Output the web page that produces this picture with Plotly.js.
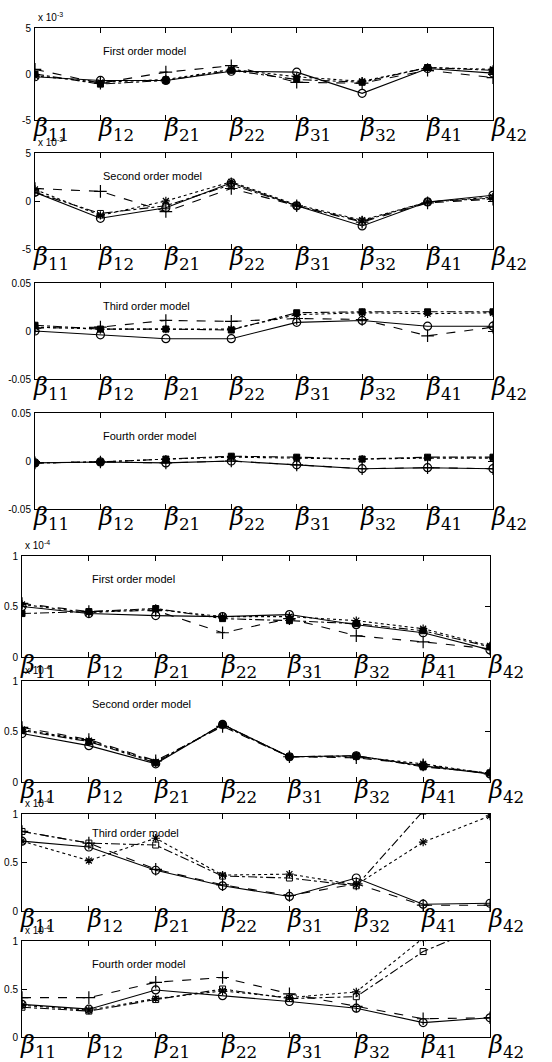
<!DOCTYPE html>
<html><head><meta charset="utf-8">
<script src="https://cdn.plot.ly/plotly-3.0.1.min.js"></script>
<style>html,body{margin:0;padding:0;background:#fff;}#chart{width:552px;height:1062px;}</style>
</head><body><div id="chart"></div>
<script>
// Categories and tick labels
const categories = ["b11","b12","b21","b22","b31","b32","b41","b42"];
const tickLabels = ["<i>β</i><sub>11</sub>","<i>β</i><sub>12</sub>","<i>β</i><sub>21</sub>","<i>β</i><sub>22</sub>","<i>β</i><sub>31</sub>","<i>β</i><sub>32</sub>","<i>β</i><sub>41</sub>","<i>β</i><sub>42</sub>"];
const panelTitles = ["First order model","Second order model","Third order model","Fourth order model","First order model","Second order model","Third order model","Fourth order model"];
const exponentLabels = ["x 10<sup>-3</sup>","x 10<sup>-3</sup>","","","x 10<sup>-4</sup>","x 10<sup>-4</sup>","x 10<sup>-4</sup>","x 10<sup>-4</sup>"];
const yTickVals = [[-5,0,5],[-5,0,5],[-0.05,0,0.05],[-0.05,0,0.05],[0,0.5,1],[0,0.5,1],[0,0.5,1],[0,0.5,1]];
const yTickText = [["-5","0","5"],["-5","0","5"],["-0.05","0","0.05"],["-0.05","0","0.05"],["0","0.5","1"],["0","0.5","1"],["0","0.5","1"],["0","0.5","1"]];

// Series values (panels 1-2 and 5-8 in units of the shown multiplier)
// Series A: solid, circles
const solidO = [
  [-0.3,-0.7,-0.7,0.3,0.2,-2.1,0.6,0.1],
  [0.9,-1.8,-0.7,1.9,-0.5,-2.6,-0.1,0.6],
  [0.0,-0.004,-0.008,-0.008,0.009,0.011,0.005,0.005],
  [-0.002,-0.001,-0.002,0.0,-0.004,-0.008,-0.007,-0.008],
  [0.50,0.43,0.41,0.40,0.42,0.32,0.24,0.07],
  [0.48,0.36,0.18,0.57,0.25,0.26,0.16,0.08],
  [0.72,0.66,0.42,0.26,0.15,0.34,0.07,0.08],
  [0.34,0.29,0.49,0.43,0.37,0.30,0.15,0.20]
];
// Series B: dashed, plus
const dashedPlus = [
  [0.5,-1.0,0.2,0.9,-0.9,-1.0,0.4,-0.4],
  [1.3,1.0,-1.1,1.3,-0.5,-2.2,-0.2,0.2],
  [0.003,0.004,0.011,0.010,0.013,0.012,-0.005,0.004],
  [-0.002,-0.001,-0.002,0.0,-0.004,-0.008,-0.007,-0.008],
  [0.53,0.45,0.46,0.24,0.38,0.21,0.15,0.08],
  [0.54,0.42,0.21,0.55,0.25,0.24,0.17,0.08],
  [0.82,0.70,0.43,0.27,0.16,0.28,0.06,0.06],
  [0.41,0.41,0.57,0.62,0.45,0.32,0.19,0.20]
];
// Series C: dotted, asterisks
const dottedStar = [
  [-0.2,-0.9,-0.6,0.5,-0.3,-0.8,0.7,0.5],
  [1.2,-1.5,0.0,2.0,-0.4,-2.0,-0.1,0.4],
  [0.004,0.002,0.002,0.002,0.017,0.019,0.018,0.019],
  [-0.002,-0.001,0.002,0.004,0.003,0.002,0.003,0.003],
  [0.52,0.44,0.47,0.40,0.40,0.36,0.28,0.11],
  [0.52,0.41,0.20,0.56,0.25,0.25,0.18,0.08],
  [0.72,0.52,0.75,0.37,0.38,0.27,0.71,0.98],
  [0.33,0.28,0.40,0.48,0.41,0.47,1.03,1.30]
];
// Series D: dash-dot, squares
const dashdotSquare = [
  [0.0,-1.1,-0.7,0.4,-0.6,-0.9,0.7,0.4],
  [0.9,-1.3,-0.5,1.7,-0.5,-2.1,-0.1,0.3],
  [0.006,0.002,0.002,0.001,0.019,0.020,0.020,0.020],
  [-0.002,-0.001,0.002,0.005,0.004,0.002,0.004,0.004],
  [0.43,0.45,0.48,0.38,0.36,0.33,0.26,0.10],
  [0.51,0.40,0.19,0.57,0.25,0.26,0.15,0.09],
  [0.82,0.70,0.68,0.36,0.34,0.26,1.03,1.40],
  [0.31,0.27,0.39,0.50,0.40,0.42,0.89,1.18]
];
const squareSymbol = ["square","square-open","square","square","square","square","square-open","square-open"];

const W = 552, H = 1062;
const panelPx = [[35,493,28,120],[35,493,153,249],[35,493,283,379],[35,493,413,509],
                 [22,490,556,657],[22,490,681,782],[22,490,814,911],[22,490,941,1037]];
const yRanges = [[-5,5],[-5,5],[-0.05,0.05],[-0.05,0.05],[0,1],[0,1],[0,1],[0,1]];

const traces = [];
const layout = {
  width: W, height: H, margin: {l:0,r:0,t:0,b:0},
  paper_bgcolor: "#fff", plot_bgcolor: "#fff", showlegend: false,
  font: {family: "Arial, Liberation Sans, sans-serif", color: "#000"},
  annotations: []
};

for (let p = 0; p < 8; p++) {
  const n = p === 0 ? "" : String(p+1);
  const xa = "x"+n, ya = "y"+n;
  const [l,r,t,b] = panelPx[p];
  const lineW = 1.1;
  const common = {x: categories, xaxis: xa, yaxis: ya, mode: "lines+markers", hoverinfo: "skip"};
  traces.push(Object.assign({}, common, {y: dashdotSquare[p], line:{color:"#000",width:lineW,dash:"dashdot"}, marker:{symbol:squareSymbol[p],size:6,color:"#000",line:{color:"#000",width:1}}}));
  traces.push(Object.assign({}, common, {y: dottedStar[p], line:{color:"#000",width:lineW,dash:"dot"}, marker:{symbol:"asterisk-open",size:7,color:"#000",line:{color:"#000",width:1.2}}}));
  traces.push(Object.assign({}, common, {y: dashedPlus[p], line:{color:"#000",width:lineW,dash:"dash"}, marker:{symbol:"cross-thin-open",size:9,color:"#000",line:{color:"#000",width:1.2}}}));
  traces.push(Object.assign({}, common, {y: solidO[p], line:{color:"#000",width:lineW}, marker:{symbol:"circle-open",size:8,color:"#000",line:{color:"#000",width:1.2}}}));

  layout["xaxis"+n] = {
    domain: [l/W, r/W], anchor: ya, type: "category", range: [0,7],
    tickvals: categories, showticklabels: false,
    ticks: "inside", ticklen: 5, tickcolor: "#000", mirror: "ticks",
    showline: true, linecolor: "#000", linewidth: 1, showgrid: false, zeroline: false
  };
  layout["yaxis"+n] = {
    domain: [1-b/H, 1-t/H], anchor: xa, range: yRanges[p],
    tickvals: yTickVals[p], ticktext: yTickText[p],
    ticks: "inside", ticklen: 5, tickcolor: "#000", mirror: "ticks",
    showline: true, linecolor: "#000", linewidth: 1, showgrid: false, zeroline: false,
    ticklabelstandoff: 1,
    tickfont: {family: "Arial, Liberation Sans, sans-serif", size: 10, color: "#000"}
  };
  // category labels (β_ij) drawn just under each panel, starting at each tick
  categories.forEach((c, i) => {
    layout.annotations.push({
      text: tickLabels[i], xref: xa, yref: "paper", x: c, y: 1 - (b - 7)/H,
      xanchor: "left", yanchor: "top", xshift: -3, showarrow: false, borderpad: 0,
      font: {family: "DejaVu Serif, Liberation Serif, serif", size: 24, color: "#000"}
    });
  });
  layout.annotations.push({
    text: panelTitles[p], xref: "paper", yref: "paper",
    x: (l + (p < 4 ? 66 : 68))/W, y: 1 - (t + (p === 6 ? 19 : 23))/H,
    xanchor: "left", yanchor: "middle", showarrow: false,
    font: {family: "Arial, Liberation Sans, sans-serif", size: 11, color: "#000"}
  });
  if (exponentLabels[p]) {
    layout.annotations.push({
      text: exponentLabels[p], xref: "paper", yref: "paper",
      x: (l + 1)/W, y: 1 - (t - 3)/H, xanchor: "left", yanchor: "bottom", showarrow: false,
      font: {family: "Arial, Liberation Sans, sans-serif", size: 10, color: "#000"}
    });
  }
}

Plotly.newPlot("chart", traces, layout, {displayModeBar: false, staticPlot: true});
</script>
</body></html>
